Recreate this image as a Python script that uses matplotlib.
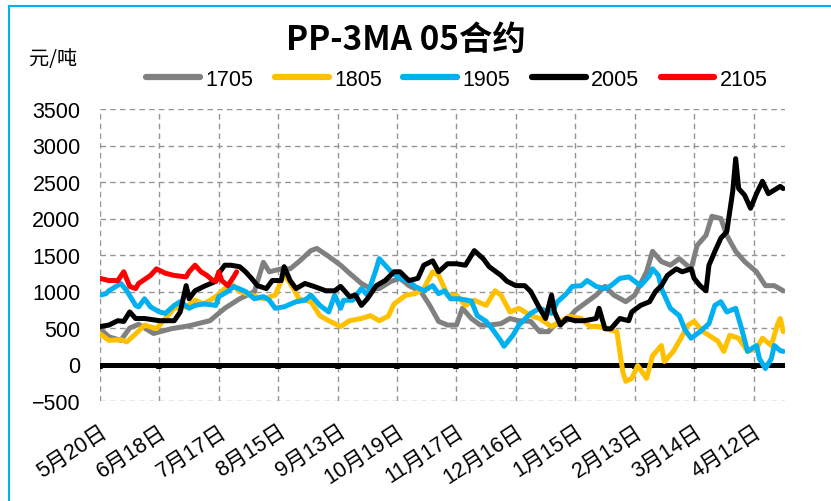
import matplotlib
matplotlib.use('Agg')
import matplotlib.pyplot as plt
from matplotlib.lines import Line2D

plt.rcParams['font.family'] = ['Liberation Sans', 'Noto Sans CJK SC', 'DejaVu Sans']

# trading-day index -> 3-month moving basis, yuan/ton
days_1705 = [0, 3, 7, 10, 13, 18, 24, 30, 37, 42, 47, 52, 55, 57, 61, 64, 67, 71, 73, 77,
             81, 84, 88, 91, 94, 98, 101, 104, 108, 111, 114, 117, 120, 122, 125, 128, 131,
             135, 138, 141, 145, 148, 151, 153, 157, 160, 163, 167, 170, 173, 177, 180, 184,
             186, 189, 192, 195, 199, 201, 204, 206, 209, 211, 214, 217, 221, 224, 227, 230]
vals_1705 = [490, 380, 330, 500, 550, 425, 490, 530, 600, 770, 900, 1000, 1400, 1270, 1310,
             1310, 1410, 1560, 1590, 1480, 1360, 1250, 1110, 1040, 1040, 1140, 1180, 1080,
             1000, 810, 590, 540, 540, 770, 630, 540, 540, 560, 630, 600, 590, 450, 450, 540,
             600, 740, 830, 950, 1070, 950, 860, 950, 1270, 1550, 1410, 1360, 1450, 1310,
             1630, 1770, 2030, 2000, 1770, 1550, 1410, 1270, 1080, 1080, 1010]

days_1805 = [0, 3, 7, 9, 12, 15, 19, 22, 25, 29, 32, 35, 39, 42, 44, 47, 51, 55, 59, 62, 65,
             67, 71, 74, 77, 81, 84, 88, 91, 94, 97, 99, 103, 106, 109, 112, 114, 117, 120,
             123, 126, 130, 133, 135, 138, 141, 145, 148, 152, 155, 158, 162, 165, 168, 172,
             174, 176, 177, 179, 181, 184, 186, 189, 190, 193, 195, 198, 200, 203, 205, 208,
             210, 212, 215, 218, 221, 223, 226, 228, 229, 230]
vals_1805 = [420, 330, 340, 310, 420, 540, 490, 630, 770, 790, 880, 830, 930, 1040, 1110,
             1000, 950, 900, 950, 1240, 1050, 900, 860, 670, 600, 520, 600, 630, 670, 600,
             660, 830, 950, 970, 1040, 1270, 1220, 950, 950, 810, 880, 810, 1010, 950, 720,
             770, 670, 630, 520, 590, 660, 630, 520, 520, 470, 450, -100, -230, -190, -15,
             -190, 120, 260, 40, 180, 320, 540, 590, 450, 400, 320, 180, 400, 360, 180, 220,
             360, 260, 540, 630, 450]

days_1905 = [0, 2, 3, 7, 9, 12, 13, 15, 17, 20, 22, 25, 27, 30, 32, 35, 39, 40, 43, 45, 49,
             52, 55, 57, 59, 62, 66, 69, 71, 74, 77, 79, 81, 82, 85, 88, 90, 93, 94, 96, 98,
             101, 104, 106, 109, 112, 114, 116, 118, 121, 125, 127, 130, 132, 135, 136, 139,
             141, 145, 148, 152, 154, 157, 159, 162, 164, 167, 170, 172, 175, 178, 180, 182,
             185, 186, 188, 189, 192, 195, 197, 199, 202, 205, 207, 209, 211, 214, 216, 218,
             221, 222, 224, 226, 227, 229, 230]
vals_1905 = [950, 970, 1010, 1110, 1010, 810, 790, 900, 790, 720, 700, 810, 860, 770, 810,
             830, 810, 930, 1000, 1070, 1000, 900, 930, 880, 770, 790, 860, 880, 950, 810,
             720, 950, 770, 880, 880, 1040, 950, 1310, 1450, 1360, 1270, 1180, 1140, 1070,
             1010, 1080, 970, 1010, 900, 900, 870, 670, 590, 490, 320, 250, 400, 540, 700,
             770, 700, 860, 970, 1070, 1080, 1150, 1070, 1040, 1080, 1180, 1200, 1140, 1080,
             1220, 1310, 1220, 1040, 770, 670, 470, 360, 450, 560, 810, 860, 720, 770, 490,
             180, 260, 80, -55, 80, 260, 190, 180]

days_2005 = [0, 3, 6, 8, 10, 12, 15, 20, 25, 27, 29, 30, 32, 35, 39, 40, 42, 44, 47, 49, 51,
             53, 56, 58, 61, 62, 64, 66, 69, 72, 76, 79, 81, 84, 86, 88, 90, 93, 96, 99, 101,
             104, 107, 109, 112, 114, 117, 120, 123, 126, 129, 131, 135, 137, 140, 143, 145,
             148, 150, 152, 153, 155, 157, 160, 163, 167, 168, 170, 172, 175, 178, 179, 182,
             185, 187, 189, 191, 194, 196, 199, 200, 202, 204, 205, 207, 209, 211, 213, 214,
             215, 217, 219, 221, 223, 225, 227, 229, 230]
vals_2005 = [520, 540, 600, 590, 720, 630, 630, 600, 600, 720, 1080, 900, 1010, 1070, 1140,
             1250, 1360, 1360, 1340, 1270, 1180, 1080, 1040, 1150, 1150, 1340, 1150, 1040,
             1110, 1070, 1010, 1010, 1070, 930, 950, 810, 900, 1080, 1150, 1270, 1270, 1150,
             1180, 1360, 1420, 1270, 1380, 1380, 1360, 1560, 1450, 1340, 1220, 1140, 1080,
             1080, 1000, 770, 630, 950, 720, 540, 630, 600, 600, 630, 770, 490, 490, 630, 600,
             720, 810, 860, 1000, 1080, 1220, 1310, 1270, 1310, 1180, 1080, 1010, 1360, 1550,
             1730, 1820, 2370, 2820, 2410, 2320, 2140, 2340, 2510, 2340, 2390, 2440, 2410]

days_2105 = [0, 3, 6, 8, 10, 12, 13, 17, 19, 22, 25, 29, 30, 32, 34, 36, 38, 39, 40, 41, 43,
             45, 46]
vals_2105 = [1180, 1150, 1150, 1270, 1070, 1040, 1110, 1220, 1310, 1250, 1220, 1200, 1270,
             1360, 1270, 1220, 1150, 1140, 1270, 1150, 1080, 1200, 1270]

tick_days = [0, 20, 40, 60, 80, 100, 120, 140, 160, 180, 200, 220]
tick_labels = ['5月20日', '6月18日', '7月17日', '8月15日', '9月13日', '10月19日',
               '11月17日', '12月16日', '1月15日', '2月13日', '3月14日', '4月12日']

series = [
    ('1705', days_1705, vals_1705, '#808080'),
    ('1805', days_1805, vals_1805, '#FFC000'),
    ('1905', days_1905, vals_1905, '#00B0F0'),
    ('2005', days_2005, vals_2005, '#000000'),
    ('2105', days_2105, vals_2105, '#FF0000'),
]

fig = plt.figure(figsize=(8.31, 5.02), dpi=100)
ax = fig.add_axes([100 / 831, 1 - 402 / 502, 685 / 831, 292 / 502])

for name, d, v, c in series:
    ax.plot(d, v, color=c, lw=3.6, label=name, solid_joinstyle='round',
            solid_capstyle='round')

# category axis drawn at zero with small tick marks below it
ax.axhline(0, color='black', lw=3.6, solid_capstyle='projecting', zorder=1)
ax.vlines(tick_days, -60, 0, color='black', lw=4, zorder=1)

ax.set_xlim(0, 230.6)
ax.set_ylim(-500, 3500)
ax.set_yticks(range(-500, 3501, 500))
ax.set_xticks(tick_days)
ax.set_xticklabels(tick_labels, rotation=33, ha='right', va='top',
                   rotation_mode='anchor', fontsize=15.5)
ax.tick_params(axis='y', length=0, pad=14, labelsize=15.5)
ax.tick_params(axis='x', length=0, pad=14)
ax.grid(True, ls=(0, (4, 3)), color='#949494', lw=1)
ax.set_axisbelow(True)
for s in ax.spines.values():
    s.set_visible(False)

fig.text(406 / 831, 1 - 40 / 502, 'PP-3MA 05合约', ha='center', va='center',
         fontsize=24, fontweight='bold', family=['Noto Sans CJK SC', 'DejaVu Sans'])
fig.text(29 / 831, 1 - 60 / 502, '元/吨', ha='left', va='center', fontsize=14.5,
         family=['Noto Sans CJK SC', 'DejaVu Sans'])

leg = fig.legend(loc='center', bbox_to_anchor=(457 / 831, 1 - 80 / 502), ncol=5,
                 frameon=False, fontsize=15.5, handlelength=2.5, handletextpad=0.25,
                 columnspacing=1.0)
for h in leg.get_lines():
    h.set_linewidth(4.5)

# light blue frame along the top and left edges
fig.add_artist(Line2D([9 / 831, 9 / 831], [0, 1 - 6.5 / 502], color='#00B0F0', lw=1.5,
                      transform=fig.transFigure))
fig.add_artist(Line2D([9 / 831, 1], [1 - 6.5 / 502, 1 - 6.5 / 502], color='#00B0F0',
                      lw=1.5, transform=fig.transFigure))

fig.savefig('out.png', dpi=100)
